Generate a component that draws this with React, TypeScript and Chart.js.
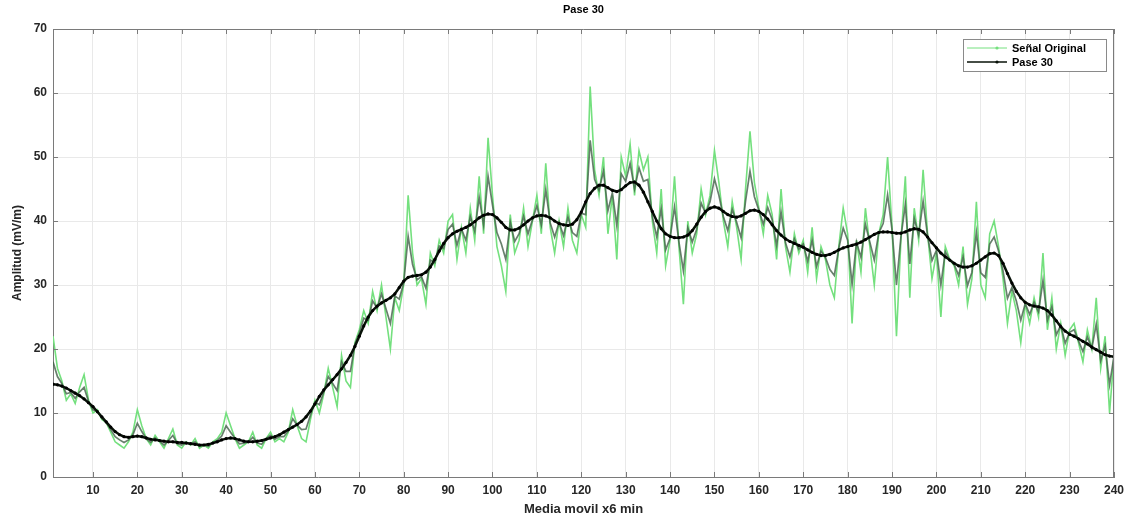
import React, { useEffect, useRef } from 'react';
import { Chart, registerables } from 'chart.js';
Chart.register(...registerables);

const TITLE = 'Pase 30';
const X_LABEL = 'Media movil x6 min';
const Y_LABEL = 'Amplitud (mV/m)';
const X_TICKS = [10, 20, 30, 40, 50, 60, 70, 80, 90, 100, 110, 120, 130, 140, 150, 160, 170, 180, 190, 200, 210, 220, 230, 240];
const Y_TICKS = [0, 10, 20, 30, 40, 50, 60, 70];

// Señal Original (samples 1..240)
const SENAL_ORIGINAL = [
  22, 17, 15, 12, 13, 11.5, 14, 16, 12, 10,
  10.5, 9, 8.5, 7, 5.5, 5, 4.5, 5.5, 7, 10.5,
  8, 6, 5, 6.5, 5.5, 4.5, 6, 7.5, 5, 4.5,
  5.5, 5, 6, 4.5, 5, 4.5, 5.5, 6, 7, 10,
  8, 6, 4.5, 5, 5.5, 7, 5, 4.5, 6, 7,
  5.5, 6, 5.5, 7, 10.5, 8, 6, 5.5, 9, 12,
  10, 13, 17, 14, 11, 19, 15, 14, 21, 23,
  26, 24, 29, 26, 30, 25, 20, 28, 26, 30,
  44, 35, 30, 31, 27, 35, 33, 37, 35, 40,
  41, 34, 39, 35, 42, 37, 47, 38, 53, 44,
  36, 33, 29, 41, 35, 37, 42, 36, 40, 44,
  38, 49, 39, 35, 40, 36, 42, 37, 35, 41,
  39, 61, 48, 44, 50, 38, 44, 34, 50, 47,
  52, 44, 51, 48, 50, 40, 35, 45, 33, 37,
  47, 36, 27, 40, 35, 38, 45, 41, 44, 51,
  46, 40, 36, 43, 39, 34, 45, 54, 46, 42,
  38, 44, 41, 34, 45, 36, 32, 38, 35, 37,
  32, 39, 31, 36, 34, 30, 28, 36, 42, 38,
  24, 37, 32, 42, 36, 30, 38, 41, 50, 39,
  22, 37, 47, 28, 42, 37, 48, 38, 31, 35,
  25, 36, 34, 33, 30, 36, 27, 31, 43, 30,
  28, 38, 40, 36, 31, 24, 29, 26, 21, 27,
  24, 28, 25, 35, 23, 28, 20, 24, 19, 23,
  24, 21, 18, 23, 20, 28, 17, 22, 10, 19
];

// Intermediate passes (dark band between the original and Pase 30)
const PASES_INTERMEDIOS = [
  18, 15.7, 14.6, 13, 13.2, 12.3, 13.3, 14, 11.8, 10.5,
  10.3, 9.2, 8.5, 7.4, 6.3, 5.8, 5.4, 5.8, 6.6, 8.4,
  7.1, 6, 5.4, 6.1, 5.6, 5, 5.7, 6.5, 5.2, 5,
  5.4, 5.1, 5.5, 4.8, 5, 4.8, 5.4, 5.7, 6.4, 8,
  7, 6, 5.2, 5.3, 5.5, 6.2, 5.3, 5.1, 6, 6.5,
  5.9, 6.3, 6.3, 7.2, 9.1, 8.1, 7.4, 7.5, 9.7, 11.7,
  11.3, 13.3, 15.7, 14.6, 13.5, 18, 16.5, 16.5, 20.7, 22.5,
  24.8, 24.5, 27.5, 26.4, 28.6, 26.3, 24, 28.3, 27.8, 30.3,
  37.6, 33.2, 30.8, 31.3, 29.5, 33.9, 33.5, 36.1, 35.7, 38.7,
  39.5, 36.2, 38.8, 37, 40.7, 38.4, 43.7, 39.4, 47, 42.5,
  38.2, 36.4, 34, 39.8, 36.8, 38, 40.7, 38, 40.2, 42.4,
  39.4, 44.9, 39.7, 37.5, 39.8, 37.7, 40.6, 38.2, 37.6, 41.2,
  41, 52.6, 46.5, 44.8, 47.8, 41.6, 44.4, 39.3, 47.4, 46.2,
  49, 45, 48.3, 46.2, 46.5, 40.7, 37.5, 41.9, 35.5, 37.3,
  42.2, 36.7, 32.2, 38.9, 36.7, 38.7, 42.8, 41.2, 43, 46.6,
  44, 40.7, 38.5, 41.8, 39.8, 37.4, 43.1, 47.8, 43.8, 41.7,
  39.5, 42.1, 40.2, 36.2, 41.4, 36.6, 34.4, 37.2, 35.6, 36.4,
  33.7, 37, 32.9, 35.3, 34.3, 32.4, 31.5, 35.7, 38.9, 37,
  30.1, 36.7, 34.3, 39.5, 36.7, 33.9, 38.1, 39.6, 44.1, 38.6,
  30, 37.5, 42.6, 33.3, 40.4, 37.8, 43.1, 37.7, 33.8, 35.4,
  30, 35.2, 33.9, 33.2, 31.5, 34.4, 29.9, 32, 38.2, 31.9,
  31.2, 36.4, 37.5, 35.3, 32.2, 27.9, 29.6, 27.5, 24.5, 27.1,
  25.4, 27.3, 25.8, 30.7, 24.5, 26.6, 22.2, 23.7, 20.9, 22.6,
  23, 21.3, 19.6, 21.9, 20.1, 23.9, 18.2, 20.5, 14.4, 18.9
];

// Pase 30 (samples 1..240)
const PASE_30 = [
  14.5, 14.4, 14.2, 13.9, 13.5, 13.1, 12.7, 12.2, 11.6, 11.0,
  10.2, 9.4, 8.6, 7.8, 7.1, 6.6, 6.3, 6.2, 6.3, 6.4,
  6.3, 6.1, 5.9, 5.8, 5.7, 5.6, 5.5, 5.5, 5.4, 5.4,
  5.3, 5.2, 5.1, 5.0, 5.0, 5.1, 5.3, 5.5, 5.8, 6.0,
  6.1, 6.0, 5.8, 5.6, 5.5, 5.5, 5.6, 5.7, 5.9, 6.1,
  6.3, 6.6, 7.0, 7.4, 7.8, 8.2, 8.7, 9.4, 10.3, 11.4,
  12.6, 13.6, 14.4, 15.2, 16.0, 16.9, 17.9, 19.0, 20.4, 22.0,
  23.6, 25.0, 26.0, 26.7, 27.2, 27.6, 28.0, 28.6, 29.6, 30.6,
  31.2, 31.4, 31.5, 31.6, 32.0, 32.8, 34.0, 35.3, 36.5, 37.4,
  38.0, 38.4, 38.7, 39.0, 39.4, 39.9, 40.5, 40.9, 41.1, 41.0,
  40.5, 39.8, 39.0, 38.6, 38.6, 38.9, 39.4, 40.0, 40.5, 40.8,
  40.9, 40.8, 40.5, 40.0, 39.6, 39.4, 39.3, 39.5, 40.2, 41.4,
  43.0, 44.3, 45.1, 45.6, 45.6, 45.2, 44.8, 44.6, 44.9, 45.5,
  46.0, 46.1, 45.6, 44.5, 43.0, 41.5, 40.0, 38.8, 38.0, 37.6,
  37.4, 37.4, 37.5, 37.8, 38.5, 39.5, 40.6, 41.5, 42.0, 42.2,
  42.0, 41.5, 41.0, 40.7, 40.6, 40.8, 41.2, 41.6, 41.7, 41.5,
  41.0, 40.3, 39.4, 38.5, 37.8, 37.2, 36.8, 36.5, 36.2, 35.9,
  35.5, 35.1, 34.8, 34.6, 34.6, 34.8, 35.1, 35.5, 35.8, 36.0,
  36.2, 36.4, 36.7, 37.1, 37.5, 37.9, 38.2, 38.3, 38.3, 38.2,
  38.1, 38.1, 38.3, 38.6, 38.8, 38.7, 38.3, 37.5, 36.6, 35.8,
  35.0, 34.4, 33.9, 33.4, 33.0, 32.8, 32.8, 33.0, 33.4, 33.9,
  34.4, 34.9, 35.0, 34.6, 33.4, 31.8, 30.3, 29.0, 28.0, 27.3,
  26.9, 26.7, 26.6, 26.4, 26.0, 25.3, 24.4, 23.5, 22.8, 22.3,
  22.0, 21.6, 21.2, 20.8, 20.3, 19.9, 19.5, 19.1, 18.9, 18.8
];

const GREEN = '#74e07e';
const MID = 'rgba(66, 96, 72, 0.8)';
const BLACK = '#081208';
const AXIS = '#7a7a7a';
const TEXT = '#262626';
const FONT = "'Liberation Sans', Arial, sans-serif";

const framePlugin = {
  id: 'matlabFrame',
  afterDraw(chart: any) {
    const { ctx, chartArea: a } = chart;
    const xs = chart.scales.x;
    const ys = chart.scales.y;
    ctx.save();
    ctx.strokeStyle = AXIS;
    ctx.lineWidth = 1;
    ctx.beginPath();
    ctx.moveTo(a.left, a.top + 0.5);
    ctx.lineTo(a.right, a.top + 0.5);
    ctx.moveTo(a.right - 0.5, a.top);
    ctx.lineTo(a.right - 0.5, a.bottom);
    ctx.stroke();
    ctx.beginPath();
    X_TICKS.forEach((v) => {
      const px = Math.round(xs.getPixelForValue(v)) + 0.5;
      ctx.moveTo(px, a.bottom);
      ctx.lineTo(px, a.bottom - 5);
      ctx.moveTo(px, a.top);
      ctx.lineTo(px, a.top + 5);
    });
    Y_TICKS.forEach((v) => {
      const py = Math.round(ys.getPixelForValue(v)) + 0.5;
      ctx.moveTo(a.left, py);
      ctx.lineTo(a.left + 5, py);
      ctx.moveTo(a.right, py);
      ctx.lineTo(a.right - 5, py);
    });
    ctx.stroke();
    // title
    ctx.fillStyle = '#000';
    ctx.font = `bold 11px ${FONT}`;
    ctx.textAlign = 'center';
    ctx.textBaseline = 'middle';
    ctx.fillText(TITLE, (a.left + a.right) / 2, 10);
    // legend
    const lx = 963, ly = 39, lw = 143, lh = 32;
    ctx.fillStyle = '#fff';
    ctx.fillRect(lx, ly, lw, lh);
    ctx.strokeStyle = '#8a8a8a';
    ctx.strokeRect(lx + 0.5, ly + 0.5, lw, lh);
    const entries = chart.data.datasets.filter((d: any) => d.inLegend);
    const rows = [48, 62];
    entries.forEach((d: any, i: number) => {
      const ry = rows[i];
      ctx.strokeStyle = d.borderColor;
      ctx.lineWidth = i === 0 ? 1 : 1.5;
      ctx.beginPath();
      ctx.moveTo(967, ry);
      ctx.lineTo(1007, ry);
      ctx.stroke();
      ctx.fillStyle = d.borderColor;
      ctx.beginPath();
      ctx.arc(997, ry, 1.6, 0, Math.PI * 2);
      ctx.fill();
      ctx.fillStyle = '#000';
      ctx.font = `bold 11px ${FONT}`;
      ctx.textAlign = 'left';
      ctx.fillText(d.label, 1012, ry + 0.5);
    });
    ctx.restore();
  },
};

export default function App() {
  const ref = useRef<HTMLCanvasElement>(null);
  useEffect(() => {
    const toPts = (arr: number[]) => arr.map((y, i) => ({ x: i + 1, y }));
    const tickFont = { family: FONT, size: 12, weight: 'bold' as const };
    const chart = new Chart(ref.current as HTMLCanvasElement, {
      type: 'line',
      data: {
        datasets: [
          {
            label: 'Señal Original',
            inLegend: true,
            order: 2,
            data: toPts(SENAL_ORIGINAL),
            borderColor: GREEN,
            backgroundColor: GREEN,
            borderWidth: 1.6,
            pointRadius: 0,
            tension: 0,
          } as any,
          {
            label: 'Pases intermedios',
            inLegend: false,
            order: 1,
            data: toPts(PASES_INTERMEDIOS),
            borderColor: MID,
            backgroundColor: MID,
            borderWidth: 1.7,
            pointRadius: 0,
            tension: 0,
          } as any,
          {
            label: 'Pase 30',
            inLegend: true,
            order: 0,
            data: toPts(PASE_30),
            borderColor: BLACK,
            backgroundColor: BLACK,
            borderWidth: 2.5,
            pointRadius: 1.6,
            pointBorderWidth: 0,
            pointBackgroundColor: '#000',
            tension: 0,
          } as any,
        ],
      },
      options: {
        responsive: false,
        animation: false,
        events: [],
        layout: { padding: { top: 29, right: 21, left: 0, bottom: 0 } },
        plugins: {
          legend: { display: false },
          title: { display: false },
          tooltip: { enabled: false },
        },
        scales: {
          x: {
            type: 'linear',
            min: 1,
            max: 240,
            afterBuildTicks: (s: any) => {
              s.ticks = X_TICKS.map((v) => ({ value: v }));
            },
            afterFit: (s: any) => {
              s.height = 36;
            },
            grid: { color: '#e9e9e9', drawTicks: false },
            border: { color: AXIS },
            ticks: { padding: 6, font: tickFont, color: TEXT, maxRotation: 0, autoSkip: false },
            title: {
              display: true,
              text: X_LABEL,
              font: { family: FONT, size: 13, weight: 'bold' },
              color: TEXT,
              padding: { top: 0, bottom: -4 },
            },
          },
          y: {
            min: 0,
            max: 70,
            afterBuildTicks: (s: any) => {
              s.ticks = Y_TICKS.map((v) => ({ value: v }));
            },
            afterFit: (s: any) => {
              s.width = 53;
            },
            grid: { color: '#e9e9e9', drawTicks: false },
            border: { color: AXIS },
            ticks: { padding: 6, font: tickFont, color: TEXT },
            title: {
              display: true,
              text: Y_LABEL,
              font: { family: FONT, size: 12, weight: 'bold' },
              color: TEXT,
              padding: { top: 10, bottom: 0 },
            },
          },
        },
      },
      plugins: [framePlugin],
    });
    return () => chart.destroy();
  }, []);
  return (
    <div style={{ position: 'fixed', left: 0, top: 0, width: 1135, height: 513, background: '#fff' }}>
      <canvas ref={ref} width={1135} height={513} style={{ display: 'block' }} />
    </div>
  );
}
